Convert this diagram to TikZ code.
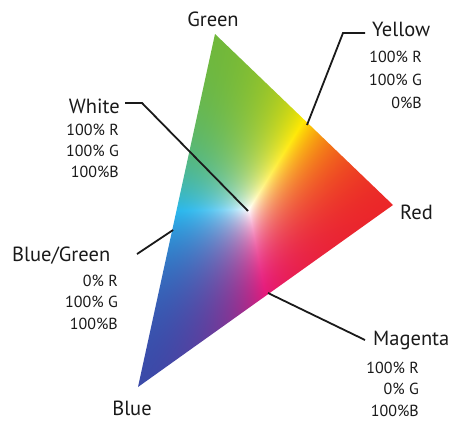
\documentclass[tikz,border=0pt]{standalone}
\usepackage{fontspec}
\setmainfont{PT Sans}
\definecolor{ink}{RGB}{26,26,26}
\pgfdeclarefunctionalshading{tri}{\pgfpoint{0bp}{0bp}}{\pgfpoint{100bp}{100bp}}{}{
25 sub exch 25 sub exch
1 index 0.023688 mul 1 index -0.0071528 mul add
2 index -0.012213 mul 2 index 0.023688 mul add
4 2 roll pop pop
2 copy add 1 exch sub
dup 0 lt {pop 0} if 3 1 roll
dup 0 lt {pop 0} if 3 1 roll
dup 0 lt {pop 0} if 3 1 roll
3 copy 2 copy lt {exch} if pop 2 copy lt {exch} if pop
4 1 roll
3 index div 3 1 roll
3 index div 3 1 roll
3 index div 3 1 roll
4 -1 roll pop
dup sqrt mul 3 1 roll
dup sqrt mul 3 1 roll
dup sqrt mul 3 1 roll
2 index 0.92 mul 2 index 0.44 mul add 1 index 0.23 mul add
3 index 3 index mul -0.36 mul add
3 index 2 index mul -0.25 mul add
2 index 2 index mul -0.50 mul add
3 index 3 index mul 2 index mul 0.52 mul add
4 1 roll
2 index 0.15 mul 2 index 0.72 mul add 1 index 0.29 mul add
3 index 3 index mul 0.04 mul add
3 index 2 index mul -0.34 mul add
2 index 2 index mul -0.29 mul add
3 index 3 index mul 2 index mul 0.43 mul add
4 1 roll
2 index 0.16 mul 2 index 0.23 mul add 1 index 0.66 mul add
3 index 3 index mul -0.39 mul add
3 index 2 index mul -0.34 mul add
2 index 2 index mul 0.04 mul add
3 index 3 index mul 2 index mul 0.64 mul add
4 1 roll
pop pop pop
}
\begin{document}
\begin{tikzpicture}[x=1pt,y=-1pt,
  lbl/.style={font=\fontsize{20.5}{24}\selectfont, inner sep=0pt, text=ink},
  val/.style={font=\fontsize{16}{19}\selectfont, inner sep=0pt, text=ink, anchor=base east},
  lead/.style={draw=ink, line width=1.8pt, line join=miter}]
\useasboundingbox[fill=white] (0,0) rectangle (456,423);
% triangle vertices
\coordinate (G) at (215,34);
\coordinate (R) at (393,205);
\coordinate (B) at (138,387);
\shade[shading=tri] (G) -- (R) -- (B) -- cycle;
% labels
\node[lbl, anchor=base] (green) at (213,27) {Green};
\node[lbl, anchor=base west] (yellow) at (372,37) {Yellow};
\node[val] (y1) at (422,63) {100\% R};
\node[val] (y2) at (422,85.5) {100\% G};
\node[val] (y3) at (422,108) {0\%B};
\node[lbl, anchor=base east] (white) at (120,113) {White};
\node[val] (w1) at (119,135) {100\% R};
\node[val] (w2) at (119,156) {100\% G};
\node[val] (w3) at (119,177) {100\%B};
\node[lbl, anchor=base west] (red) at (400,219) {Red};
\node[lbl, anchor=base west] (bluegreen) at (12,261) {Blue/Green};
\node[val] (b1) at (118,286) {0\% R};
\node[val] (b2) at (118,307.5) {100\% G};
\node[val] (b3) at (118,329) {100\%B};
\node[lbl, anchor=base] (blue) at (132,415) {Blue};
\node[lbl, anchor=base west] (magenta) at (373,345) {Magenta};
\node[val] (m1) at (419,373) {100\% R};
\node[val] (m2) at (419,394.5) {0\% G};
\node[val] (m3) at (419,416) {100\%B};
% leader lines
\coordinate (wS) at (125,103);
\coordinate (wK) at (142,103);
\coordinate (wE) at (248,211);
\coordinate (yS) at (365,33);
\coordinate (yK) at (343,33);
\coordinate (yE) at (307,125);
\coordinate (bS) at (137,254);
\coordinate (bE) at (173,230);
\coordinate (mS) at (365,340);
\coordinate (mE) at (268,293);
\draw[lead] (wS) -- (wK) -- (wE);
\draw[lead] (yS) -- (yK) -- (yE);
\draw[lead] (bS) -- (bE);
\draw[lead] (mS) -- (mE);
\end{tikzpicture}
\end{document}
